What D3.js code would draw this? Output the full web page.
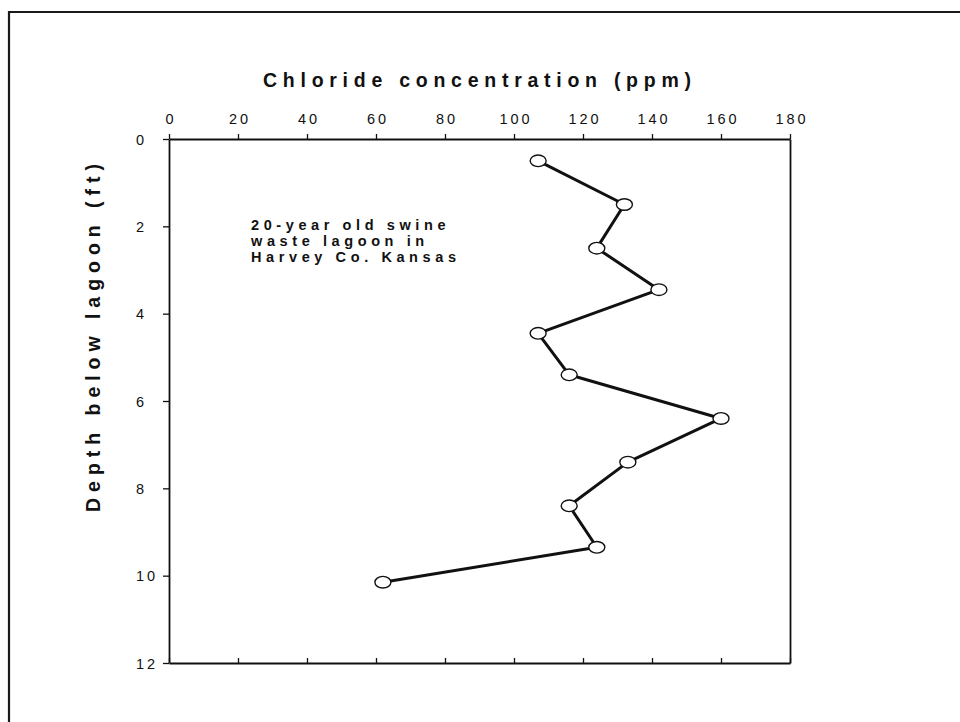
<!DOCTYPE html>
<html>
<head>
<meta charset="utf-8">
<script src="https://cdn.jsdelivr.net/npm/d3@7"></script>
<style>
  html, body { margin: 0; padding: 0; background: #fff; }
  svg { display: block; }
</style>
</head>
<body>
<svg id="chart" width="960" height="722"></svg>
<script>
// ---- data ----
const depths = [0.5, 1.5, 2.5, 3.45, 4.45, 5.4, 6.4, 7.4, 8.4, 9.35, 10.15];
const chloride = [107, 132, 124, 142, 107, 116, 160, 133, 116, 124, 62];
const xTicks = [0, 20, 40, 60, 80, 100, 120, 140, 160, 180];
const yTicks = [0, 2, 4, 6, 8, 10, 12];
const titleText = "Chloride concentration (ppm)";
const yLabelText = "Depth below lagoon (ft)";
const noteLines = ["20-year old swine", "waste lagoon in", "Harvey Co. Kansas"];

const FONT = "'Liberation Sans', Arial, Helvetica, sans-serif";
const svg = d3.select("#chart");

// outer frame (extends beyond page on right and bottom)
svg.append("path")
  .attr("d", "M9,740 L9,12 L975,12")
  .attr("fill", "none").attr("stroke", "#1a1a1a").attr("stroke-width", 2.2);

const x = d3.scaleLinear().domain([0, 180]).range([169, 790]);
const y = d3.scaleLinear().domain([0, 12]).range([139, 663]);

// top axis
const gTop = svg.append("g").attr("transform", `translate(0,${y(0)})`)
  .call(d3.axisTop(x).tickValues(xTicks).tickSizeInner(5).tickSizeOuter(0).tickPadding(10));
// bottom axis (inward ticks, no labels)
const gBot = svg.append("g").attr("transform", `translate(0,${y(12)})`)
  .call(d3.axisBottom(x).tickValues(xTicks).tickSizeInner(-5).tickSizeOuter(0).tickFormat(""));
// left axis
const gLeft = svg.append("g").attr("transform", `translate(${x(0)},0)`)
  .call(d3.axisLeft(y).tickValues(yTicks).tickSizeInner(6).tickSizeOuter(0));
// right axis (plain line)
const gRight = svg.append("g").attr("transform", `translate(${x(180)},0)`)
  .call(d3.axisRight(y).tickValues([]).tickSizeOuter(0));

[gTop, gBot, gLeft, gRight].forEach(g => {
  g.selectAll("path.domain").attr("stroke", "#111").attr("stroke-width", 1.8);
  g.selectAll(".tick line").attr("stroke", "#111").attr("stroke-width", 1.3);
  g.selectAll(".tick text")
    .attr("fill", "#111")
    .style("font-family", FONT)
    .style("font-size", "14.5px")
    .style("letter-spacing", "3px");
});
gTop.selectAll(".tick text").attr("dx", "1.5px");
// left labels are left-aligned in the reference
gLeft.selectAll(".tick text")
  .attr("text-anchor", "start")
  .attr("x", -33)
  .attr("dy", "0.35em");

// title
svg.append("text")
  .attr("x", 477).attr("y", 87)
  .attr("text-anchor", "middle")
  .attr("textLength", 428).attr("lengthAdjust", "spacing")
  .style("font-family", FONT).style("font-weight", "bold")
  .style("font-size", "19.5px")
  .attr("fill", "#111")
  .text(titleText);

// y label
svg.append("text")
  .attr("transform", `translate(100,338) rotate(-90)`)
  .attr("text-anchor", "middle")
  .attr("textLength", 348).attr("lengthAdjust", "spacing")
  .style("font-family", FONT).style("font-weight", "bold")
  .style("font-size", "19.5px")
  .attr("fill", "#111")
  .text(yLabelText);

// annotation
svg.append("g").selectAll("text").data(noteLines).join("text")
  .attr("x", 251).attr("y", (d, i) => 230 + i * 16)
  .style("font-family", FONT).style("font-weight", "bold")
  .style("font-size", "14.5px").style("letter-spacing", "4.6px")
  .attr("fill", "#111")
  .text(d => d);

// data
const data = depths.map((d, i) => ({ depth: d, value: chloride[i] }));
const line = d3.line().x(d => x(d.value)).y(d => y(d.depth));
svg.append("path").datum(data)
  .attr("d", line)
  .attr("fill", "none").attr("stroke", "#111").attr("stroke-width", 3)
  .attr("stroke-linejoin", "round");

svg.append("g").selectAll("ellipse").data(data).join("ellipse")
  .attr("cx", d => x(d.value)).attr("cy", d => y(d.depth))
  .attr("rx", 8).attr("ry", 5.8)
  .attr("fill", "#fff").attr("stroke", "#111").attr("stroke-width", 1.4);
</script>
</body>
</html>
